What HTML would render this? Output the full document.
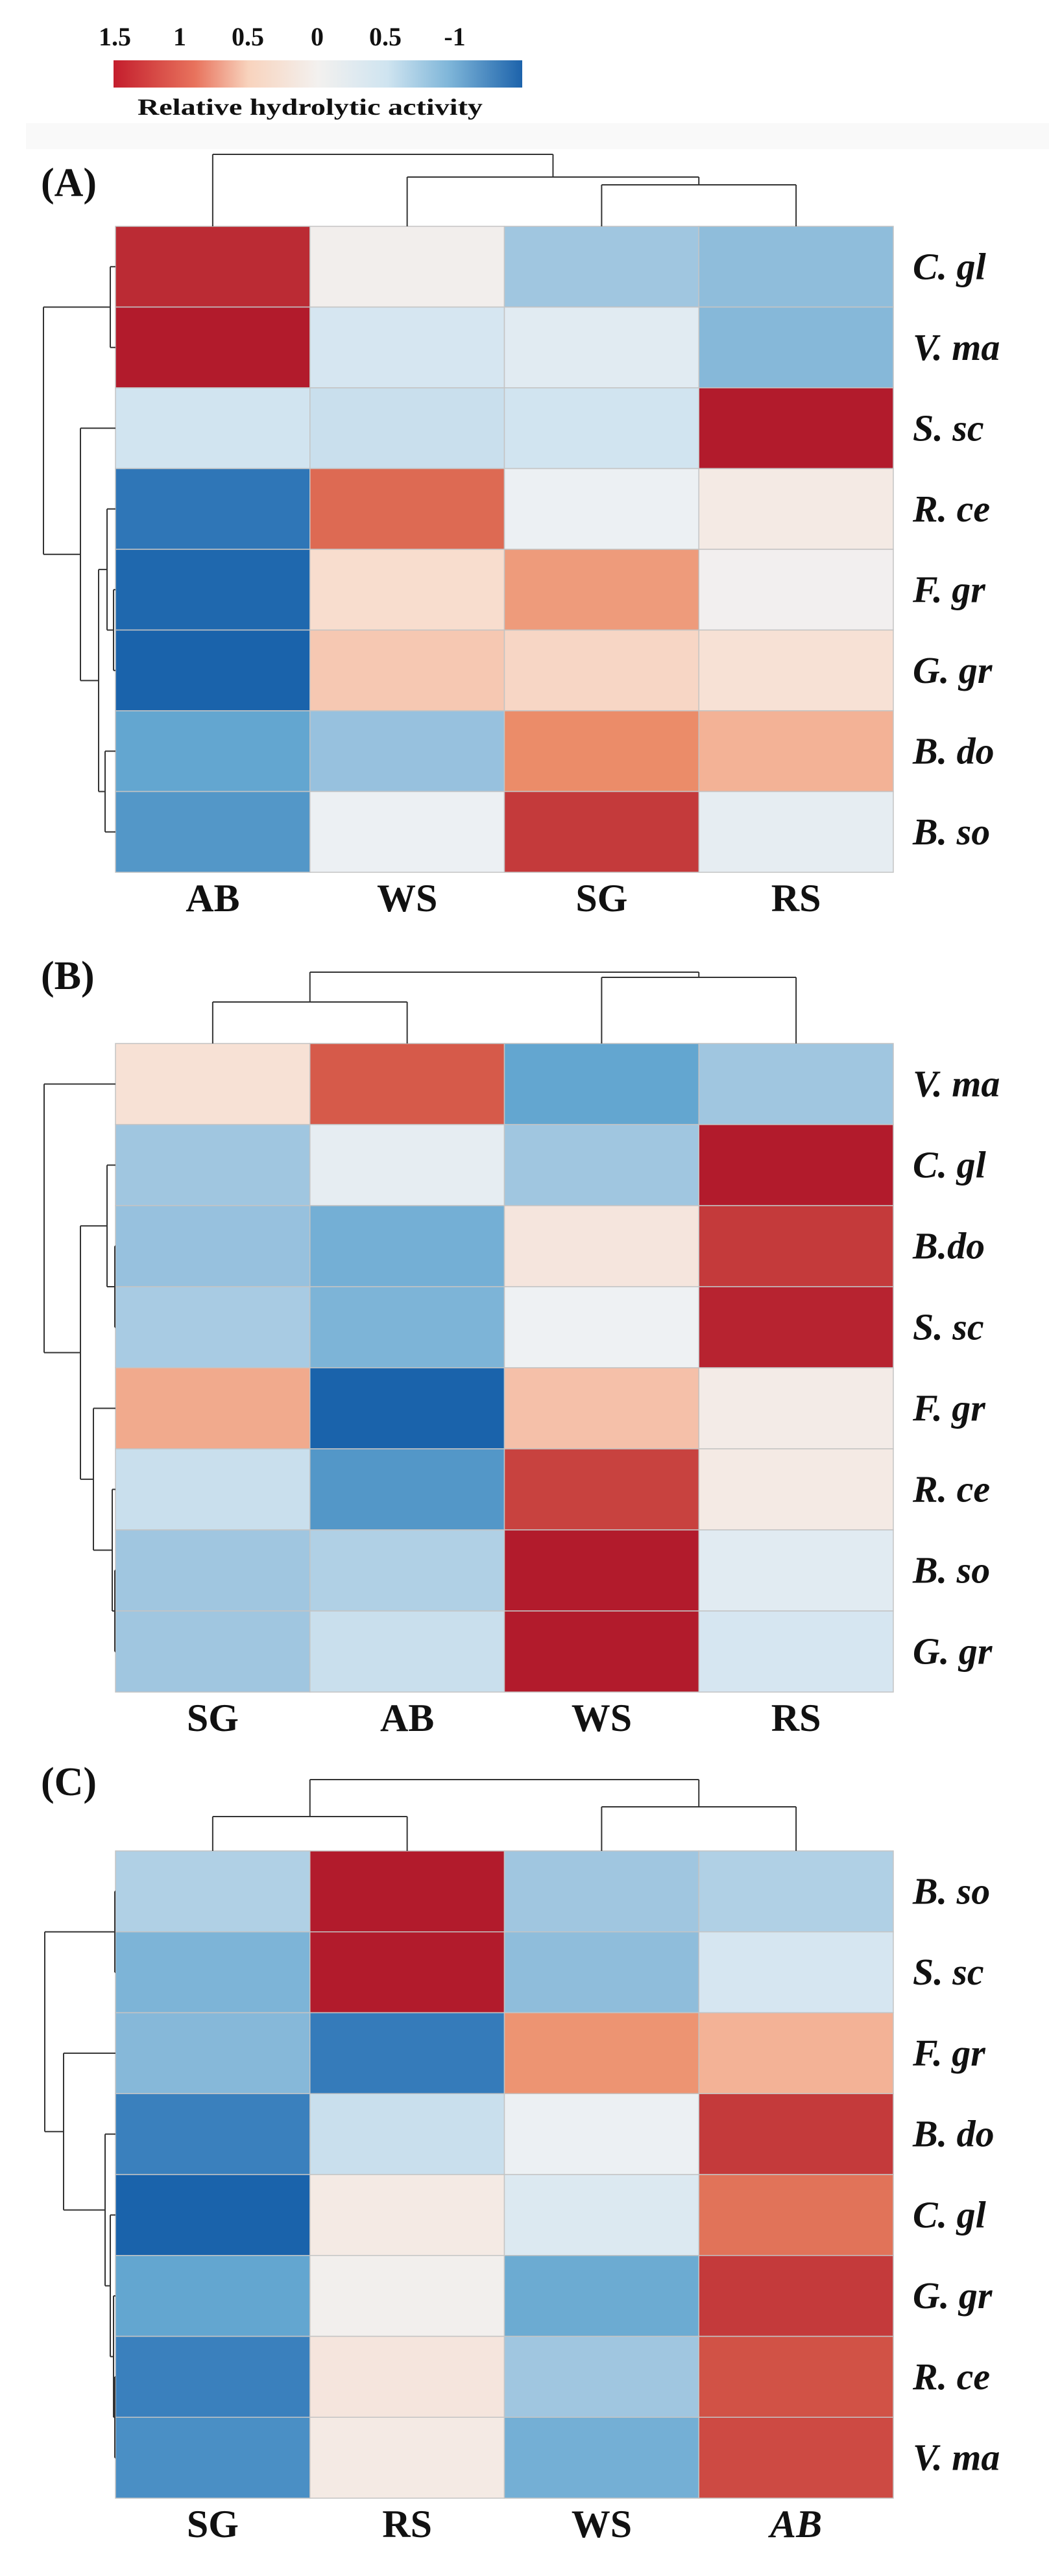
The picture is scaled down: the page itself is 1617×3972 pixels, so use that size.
<!DOCTYPE html>
<html><head><meta charset="utf-8"><style>
html,body{margin:0;padding:0;background:#fff;}
svg{display:block;}
text{font-family:"Liberation Serif",serif;font-weight:bold;fill:#111;}
</style></head><body>
<svg id="fig" width="1617" height="3972" viewBox="0 0 1617 3972" xmlns="http://www.w3.org/2000/svg">
<defs>
<linearGradient id="cbg" x1="0" x2="1" y1="0" y2="0">
<stop offset="0" stop-color="#c41e2d"/><stop offset="0.2" stop-color="#e8735d"/><stop offset="0.33" stop-color="#f8d3bd"/><stop offset="0.5" stop-color="#f3f1ef"/><stop offset="0.67" stop-color="#cfe4f0"/><stop offset="0.82" stop-color="#7fb6d9"/><stop offset="1" stop-color="#1d63ab"/>
</linearGradient>
</defs>
<rect x="40" y="190" width="1577" height="40" fill="#f9f9f9"/>
<g>
<rect x="175" y="93" width="630" height="42" fill="url(#cbg)"/>
<text x="177" y="70" font-size="40" text-anchor="middle">1.5</text>
<text x="277" y="70" font-size="40" text-anchor="middle">1</text>
<text x="382" y="70" font-size="40" text-anchor="middle">0.5</text>
<text x="489" y="70" font-size="40" text-anchor="middle">0</text>
<text x="594" y="70" font-size="40" text-anchor="middle">0.5</text>
<text x="701" y="70" font-size="40" text-anchor="middle">-1</text>
<text x="212" y="177" font-size="36" textLength="532" lengthAdjust="spacingAndGlyphs">Relative hydrolytic activity</text>
</g>
</svg>
<script>
// Panel A
const colsA = ["AB","WS","SG","RS"];
const rowsA = ["C. gl","V. ma","S. sc","R. ce","F. gr","G. gr","B. do","B. so"];
const valsA = [
 [1.4,0.05,-0.6,-0.7],[1.5,-0.25,-0.15,-0.75],[-0.3,-0.35,-0.3,1.5],[-1.3,1.0,-0.05,0.1],
 [-1.45,0.25,0.7,0.03],[-1.5,0.4,0.3,0.2],[-0.95,-0.65,0.8,0.55],[-1.05,-0.05,1.3,-0.1]];
const colTreeA = [[2,3,285],[1,4,273],[0,5,238]];
const rowTreeA = [[0,1,170],[4,5,175],[3,9,165],[6,7,162],[10,11,152],[2,12,124],[8,13,67]];
// Panel B
const colsB = ["SG","AB","WS","RS"];
const rowsB = ["V. ma","C. gl","B.do","S. sc","F. gr","R. ce","B. so","G. gr"];
const valsB = [
 [0.2,1.1,-0.95,-0.6],[-0.6,-0.1,-0.6,1.5],[-0.65,-0.85,0.15,1.3],[-0.55,-0.8,-0.03,1.45],
 [0.6,-1.5,0.45,0.08],[-0.35,-1.05,1.25,0.1],[-0.6,-0.5,1.5,-0.15],[-0.6,-0.35,1.5,-0.25]];
const colTreeB = [[0,1,1545],[2,3,1507],[4,5,1499]];
const rowTreeB = [[2,3,177],[1,8,165],[6,7,177],[5,10,173],[4,11,144],[9,12,124],[0,13,68]];
// Panel C
const colsC = ["SG","RS","WS","AB"];
const rowsC = ["B. so","S. sc","F. gr","B. do","C. gl","G. gr","R. ce","V. ma"];
const valsC = [
 [-0.5,1.5,-0.6,-0.5],[-0.8,1.5,-0.7,-0.25],[-0.75,-1.25,0.75,0.55],[-1.2,-0.35,-0.05,1.3],
 [-1.5,0.1,-0.2,0.95],[-0.95,0.04,-0.9,1.3],[-1.2,0.15,-0.6,1.15],[-1.1,0.1,-0.85,1.2]];
const colTreeC = [[0,1,2801],[2,3,2786],[4,5,2744]];
const rowTreeC = [[0,1,177],[6,7,177],[5,9,175],[4,10,170],[3,11,162],[2,12,98],[8,13,69]];

const NS="http://www.w3.org/2000/svg";
const svg=document.getElementById("fig");
const stops=[[-1.5,[26,99,171]],[-1.2,[58,128,189]],[-0.95,[99,166,208]],[-0.6,[160,198,224]],[-0.3,[209,228,240]],[0,[241,242,243]],[0.25,[248,221,206]],[0.55,[243,178,150]],[0.8,[235,140,105]],[1.05,[218,98,78]],[1.3,[196,58,59]],[1.5,[178,27,44]]];
function color(v){
  v=Math.max(-1.5,Math.min(1.5,v));
  for(let i=0;i<stops.length-1;i++){const a=stops[i],b=stops[i+1];
    if(v<=b[0]){const t=(v-a[0])/(b[0]-a[0]);const c=a[1].map((x,k)=>Math.round(x+(b[1][k]-x)*t));return `rgb(${c.join(",")})`;}}
  return "rgb(178,27,44)";
}
function el(tag,attrs,parent){const e=document.createElementNS(NS,tag);for(const k in attrs)e.setAttribute(k,attrs[k]);(parent||svg).appendChild(e);return e;}
function line(g,x1,y1,x2,y2){const l=el("line",{x1,y1,x2,y2,stroke:"#333","stroke-width":2},g);

}

function panel(id,label,cols,rows,vals,colTree,rowTree,top,bottom,letterY,colLabelY,italicLast){
  const g=el("g",{});
  
  
  const left=178,right=1377;
  const cw=(right-left)/cols.length, rh=(bottom-top)/rows.length;
  const xc=i=>left+cw*(i+0.5), yc=j=>top+rh*(j+0.5);
  const t=el("text",{x:63,y:letterY,"font-size":62},g);t.textContent="("+label+")";
  
  
  rows.forEach((r,j)=>cols.forEach((c,i)=>{
    const rc=el("rect",{x:left+cw*i,y:top+rh*j,width:cw,height:rh,fill:color(vals[j][i]),stroke:"#c4c4c4","stroke-width":1.5},g);
    
    
  }));
  rows.forEach((r,j)=>{
    const tx=el("text",{x:1407,y:yc(j)+19,"font-size":58,"font-style":"italic"},g);tx.textContent=r;
    
    
  });
  cols.forEach((c,i)=>{
    const tx=el("text",{x:xc(i),y:colLabelY,"font-size":60,"text-anchor":"middle"},g);tx.textContent=c;
    if(italicLast&&i===cols.length-1)tx.setAttribute("font-style","italic");
    
    
  });
  // column dendrogram
  const cn=cols.map((c,i)=>({x:xc(i),y:top}));
  colTree.forEach(([a,b,h])=>{const A=cn[a],B=cn[b];
    line(g,A.x,A.y,A.x,h);line(g,B.x,B.y,B.x,h);line(g,A.x,h,B.x,h);cn.push({x:(A.x+B.x)/2,y:h});});
  // row dendrogram
  const rn=rows.map((r,j)=>({x:left,y:yc(j)}));
  rowTree.forEach(([a,b,h])=>{const A=rn[a],B=rn[b];
    line(g,A.x,A.y,h,A.y);line(g,B.x,B.y,h,B.y);line(g,h,A.y,h,B.y);rn.push({x:h,y:(A.y+B.y)/2});});
}
panel("a","A",colsA,rowsA,valsA,colTreeA,rowTreeA,349,1345,302,1405,false);
panel("b","B",colsB,rowsB,valsB,colTreeB,rowTreeB,1609,2609,1525,2669,false);
panel("c","C",colsC,rowsC,valsC,colTreeC,rowTreeC,2854,3852,2768,3912,true);
</script>
</body></html>
